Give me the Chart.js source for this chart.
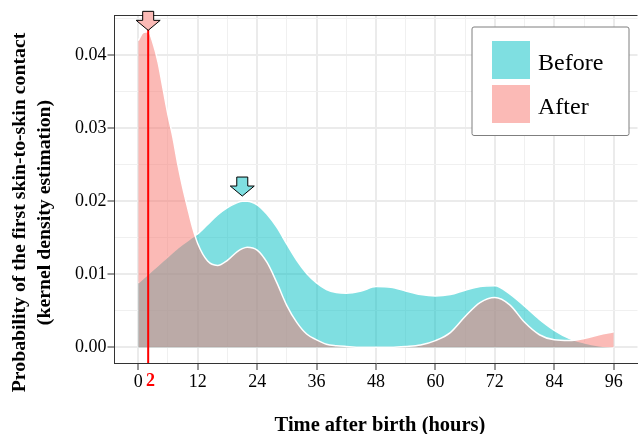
<!DOCTYPE html>
<html>
<head>
<meta charset="utf-8">
<script src="https://cdn.jsdelivr.net/npm/chart.js@4.4.1/dist/chart.umd.min.js"></script>
<style>
	html, body { margin: 0; padding: 0; background: #fff; }
	#wrap { width: 638px; height: 434px; }
</style>
</head>
<body>
<div id="wrap"><canvas id="densityChart" width="638" height="434"></canvas></div>
<script>
	const hours = [0, 1, 2, 3, 4, 5, 6, 7, 8, 9, 10, 11, 12, 14, 16, 18, 20, 21, 22, 24, 26, 28, 30, 32, 34, 36, 38, 40, 42, 45, 48, 51, 54, 57, 60, 63, 66, 69, 72, 75, 78, 81, 84, 87, 90, 93, 96];
	const beforeDensity = [0.0088, 0.0094, 0.0100, 0.0106, 0.0112, 0.0118, 0.0124, 0.0130, 0.0136, 0.0141, 0.0146, 0.0151, 0.0155, 0.0168, 0.0181, 0.0191, 0.0198, 0.0200, 0.0200, 0.0195, 0.0182, 0.0164, 0.0141, 0.0119, 0.0101, 0.0088, 0.0079, 0.0075, 0.0074, 0.0077, 0.0083, 0.0082, 0.0077, 0.0072, 0.0070, 0.0072, 0.0078, 0.0083, 0.0084, 0.0073, 0.0056, 0.0038, 0.0023, 0.0012, 0.0006, 0.0002, 0.0000];
	const afterDensity = [0.0420, 0.0431, 0.0432, 0.0416, 0.0390, 0.0354, 0.0318, 0.0287, 0.0250, 0.0218, 0.0190, 0.0163, 0.0142, 0.0118, 0.0112, 0.0119, 0.0131, 0.0135, 0.0137, 0.0133, 0.0116, 0.0088, 0.0057, 0.0034, 0.0018, 0.0010, 0.0004, 0.0002, 0.0001, 0.0000, 0.0000, 0.0000, 0.0001, 0.0003, 0.0009, 0.0020, 0.0042, 0.0061, 0.0068, 0.0058, 0.0034, 0.0017, 0.0010, 0.0009, 0.0012, 0.0017, 0.0021];
	const seriesNames = ['Before', 'After'];

	const xMajorTicks = [0, 12, 24, 36, 48, 60, 72, 84, 96];
	const xMinorTicks = [6, 18, 30, 42, 54, 66, 78, 90];
	const highlightHour = 2;
	const yMajorTicks = [0, 0.01, 0.02, 0.03, 0.04];
	const yMinorTicks = [0.005, 0.015, 0.025, 0.035, 0.045];

	const arrowHours = [2, 21];
	const arrowTips = [0.0434, 0.0207];

	const xTitle = 'Time after birth (hours)';
	const yTitle = ['Probability of the first skin-to-skin contact', '(kernel density estimation)'];

	const serif = "'Liberation Serif', 'Times New Roman', serif";
	const fills = ['rgba(0, 191, 196, 0.5)', 'rgba(248, 118, 109, 0.5)'];
	const arrowFills = ['#fbbab6', '#7fdfe1'];

	function isIn(list, value) {
		return list.some((t) => Math.abs(t - value) < 1e-9);
	}

	function gridColor(ctx, major, minor) {
		if (!ctx.tick) return 'rgba(0,0,0,0)';
		const v = ctx.tick.value;
		if (isIn(major, v)) return '#ebebeb';
		if (isIn(minor, v)) return '#f0f0f0';
		return 'rgba(0,0,0,0)';
	}

	function gridWidth(ctx, major) {
		if (!ctx.tick) return 1;
		return isIn(major, ctx.tick.value) ? 2 : 1;
	}

	function drawArrow(ctx, cx, tipY, fill) {
		ctx.beginPath();
		ctx.moveTo(cx - 5.5, tipY - 19);
		ctx.lineTo(cx + 5.5, tipY - 19);
		ctx.lineTo(cx + 5.5, tipY - 10);
		ctx.lineTo(cx + 12, tipY - 10);
		ctx.lineTo(cx, tipY);
		ctx.lineTo(cx - 12, tipY - 10);
		ctx.lineTo(cx - 5.5, tipY - 10);
		ctx.closePath();
		ctx.fillStyle = fill;
		ctx.fill();
		ctx.strokeStyle = '#000';
		ctx.lineWidth = 1;
		ctx.stroke();
	}

	const decorations = {
		id: 'decorations',
		afterDatasetsDraw(chart) {
			const { ctx, chartArea, scales: { x, y } } = chart;
			ctx.save();

			// panel top border
			ctx.strokeStyle = '#333';
			ctx.lineWidth = 1;
			ctx.beginPath();
			ctx.moveTo(chartArea.left, chartArea.top + 0.5);
			ctx.lineTo(chartArea.right, chartArea.top + 0.5);
			ctx.stroke();

			// red reference line
			const lx = x.getPixelForValue(highlightHour);
			ctx.strokeStyle = '#ff0000';
			ctx.lineWidth = 2;
			ctx.beginPath();
			ctx.moveTo(lx, chartArea.top);
			ctx.lineTo(lx, chartArea.bottom);
			ctx.stroke();

			// peak arrows
			arrowHours.forEach((h, i) => {
				drawArrow(ctx, x.getPixelForValue(h), y.getPixelForValue(arrowTips[i]), arrowFills[i]);
			});

			// legend box
			const bx = chartArea.right - 165.5;
			const by = 27;
			ctx.beginPath();
			ctx.roundRect(bx, by, 157, 108.5, 2);
			ctx.fillStyle = '#fff';
			ctx.fill();
			ctx.strokeStyle = '#7f7f7f';
			ctx.lineWidth = 1;
			ctx.stroke();
			seriesNames.forEach((name, i) => {
				const ky = by + 14 + i * 44;
				ctx.fillStyle = fills[i];
				ctx.fillRect(bx + 20, ky, 38, 38);
				ctx.fillStyle = '#000';
				ctx.font = '24px ' + serif;
				ctx.textAlign = 'left';
				ctx.textBaseline = 'alphabetic';
				ctx.fillText(name, bx + 66, ky + 28.5);
			});

			ctx.restore();
		},
		afterDraw(chart) {
			const { ctx } = chart;
			ctx.save();
			ctx.fillStyle = '#000';
			ctx.font = 'bold 20.5px ' + serif;
			ctx.textAlign = 'center';
			ctx.textBaseline = 'alphabetic';
			ctx.fillText(xTitle, 380, 430.5);

			ctx.font = 'bold 19.8px ' + serif;
			ctx.translate(0, 212.5);
			ctx.rotate(-Math.PI / 2);
			ctx.textBaseline = 'middle';
			yTitle.forEach((line, i) => {
				ctx.fillText(line, 0, 19.5 + i * 25);
			});
			ctx.restore();
		}
	};

	new Chart(document.getElementById('densityChart'), {
		type: 'line',
		data: {
			datasets: [
				{
					label: seriesNames[0],
					data: hours.map((h, i) => ({ x: h, y: beforeDensity[i] })),
					fill: 'origin',
					backgroundColor: fills[0],
					borderColor: '#ffffff',
					borderWidth: 1.5,
					pointRadius: 0,
					cubicInterpolationMode: 'monotone',
					order: 1
				},
				{
					label: seriesNames[1],
					data: hours.map((h, i) => ({ x: h, y: afterDensity[i] })),
					fill: 'origin',
					backgroundColor: fills[1],
					borderColor: '#ffffff',
					borderWidth: 1.5,
					pointRadius: 0,
					cubicInterpolationMode: 'monotone',
					order: 0
				}
			]
		},
		options: {
			responsive: false,
			animation: false,
			devicePixelRatio: 1,
			layout: { padding: { left: 0, right: 0.5, top: 15, bottom: 0 } },
			plugins: {
				legend: { display: false },
				tooltip: { enabled: false }
			},
			scales: {
				x: {
					type: 'linear',
					min: -4.8,
					max: 100.8,
					afterBuildTicks: (scale) => {
						scale.ticks = [...xMajorTicks, ...xMinorTicks, highlightHour]
							.sort((a, b) => a - b)
							.map((v) => ({ value: v }));
					},
					afterFit: (scale) => { scale.height = 71; },
					grid: {
						color: (c) => gridColor(c, xMajorTicks, xMinorTicks),
						lineWidth: (c) => gridWidth(c, xMajorTicks),
						tickColor: (c) => (c.tick && isIn(xMajorTicks, c.tick.value)) ? '#333' : 'rgba(0,0,0,0)',
						tickWidth: 1,
						tickLength: 7
					},
					border: { display: true, color: '#333', width: 1 },
					ticks: {
						autoSkip: false,
						maxRotation: 0,
						padding: 1,
						callback: (v) => {
							if (v === highlightHour) return ' ' + v;
							return isIn(xMajorTicks, v) ? String(v) : '';
						},
						color: (c) => (c.tick && c.tick.value === highlightHour) ? '#ff0000' : '#000',
						font: (c) => ({
							family: serif,
							size: 18,
							weight: (c.tick && c.tick.value === highlightHour) ? 'bold' : 'normal'
						})
					}
				},
				y: {
					type: 'linear',
					min: -0.00217,
					max: 0.0455,
					afterBuildTicks: (scale) => {
						scale.ticks = [...yMajorTicks, ...yMinorTicks]
							.sort((a, b) => a - b)
							.map((v) => ({ value: v }));
					},
					afterFit: (scale) => { scale.width = 114.5; },
					grid: {
						color: (c) => gridColor(c, yMajorTicks, yMinorTicks),
						lineWidth: (c) => gridWidth(c, yMajorTicks),
						tickColor: (c) => (c.tick && isIn(yMajorTicks, c.tick.value)) ? '#333' : 'rgba(0,0,0,0)',
						tickWidth: 1,
						tickLength: 7
					},
					border: { display: true, color: '#333', width: 1 },
					ticks: {
						autoSkip: false,
						padding: 1,
						callback: (v) => isIn(yMajorTicks, v) ? v.toFixed(2) : '',
						color: '#000',
						font: { family: serif, size: 18 }
					}
				}
			}
		},
		plugins: [decorations]
	});
</script>
</body>
</html>
